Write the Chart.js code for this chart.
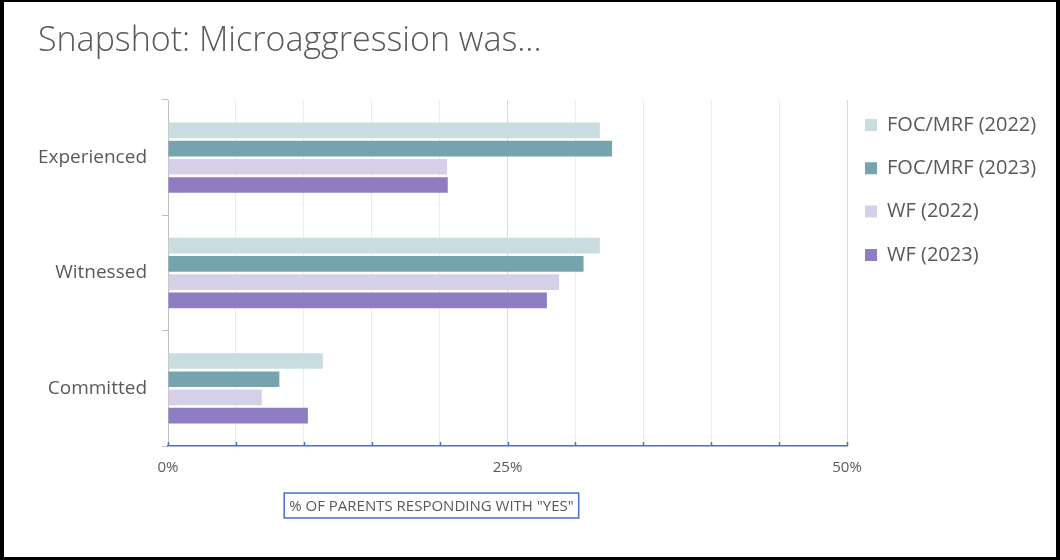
<!DOCTYPE html>
<html>
<head>
<meta charset="utf-8">
<script src="https://cdn.jsdelivr.net/npm/chart.js@4.4.1/dist/chart.umd.min.js"></script>
<style>
  html, body { margin: 0; padding: 0; background: #000; }
  #frame { position: absolute; left: 4px; top: 2px; width: 1052px; height: 555px; background: #fff; }
  canvas { display: block; }
</style>
</head>
<body>
<div id="frame"><canvas id="c" width="1052" height="555"></canvas></div>
<script>
// Survey answers: share of parents answering "yes", in percent
const categories = ['Experienced', 'Witnessed', 'Committed'];
const seriesNames = ['FOC/MRF (2022)', 'FOC/MRF (2023)', 'WF (2022)', 'WF (2023)'];
const focMrf2022 = [31.8, 31.8, 11.4];
const focMrf2023 = [32.7, 30.6, 8.2];
const wf2022 = [20.55, 28.8, 6.9];
const wf2023 = [20.6, 27.9, 10.3];
const xTickLabels = [0, 25, 50];
const axisTitle = '% OF PARENTS RESPONDING WITH "YES"';

const colors = ['#C9DCDF', '#75A4AF', '#D5CFE8', '#8E7DC2'];
const textColor = '#595959';
const fontFamily = "'Open Sans', 'Noto Sans', sans-serif";
const legendFontSize = 20;
const legendGap = 23.3;

// Legend placement beside the plot, blue inward tick marks and the boxed axis caption
const axisDecor = {
  id: 'axisDecor',
  beforeDraw(chart) {
    const lg = chart.legend;
    lg.left = chart.chartArea.right - 5.3;
    lg.top = chart.chartArea.top - 8.3;
    lg.right = lg.left + 215;
    lg.bottom = lg.top + 260;
  },
  afterDraw(chart) {
    const ctx = chart.ctx;
    const x = chart.scales.x;
    const area = chart.chartArea;
    ctx.save();
    ctx.strokeStyle = '#4472C4';
    ctx.lineWidth = 1.5;
    x.ticks.forEach(t => {
      const px = Math.round(x.getPixelForValue(t.value)) + 0.5;
      ctx.beginPath();
      ctx.moveTo(px, area.bottom);
      ctx.lineTo(px, area.bottom - 4);
      ctx.stroke();
    });
    // caption box
    ctx.font = '15px ' + fontFamily;
    const w = ctx.measureText(axisTitle).width;
    const cx = area.left + area.width * 0.388;
    const cy = area.bottom + 59.5;
    const bw = w + 10, bh = 25;
    ctx.lineWidth = 1.5;
    ctx.strokeRect(cx - bw / 2, cy - bh / 2, bw, bh);
    ctx.fillStyle = textColor;
    ctx.textAlign = 'center';
    ctx.textBaseline = 'middle';
    ctx.fillText(axisTitle, cx, cy + 1);
    ctx.restore();
  }
};

const seriesData = [focMrf2022, focMrf2023, wf2022, wf2023];

new Chart(document.getElementById('c'), {
  type: 'bar',
  data: {
    labels: categories,
    datasets: seriesNames.map((name, i) => ({
      label: name,
      data: seriesData[i],
      backgroundColor: colors[i],
      borderWidth: 0,
      categoryPercentage: 0.632,
      barPercentage: 0.86
    }))
  },
  options: {
    indexAxis: 'y',
    responsive: false,
    animation: false,
    layout: { padding: { left: 34, right: 209, top: 0, bottom: 0 } },
    plugins: {
      tooltip: { enabled: false },
      title: {
        display: true,
        text: 'Snapshot: Microaggression was...',
        align: 'start',
        color: textColor,
        font: { family: fontFamily, size: 34, weight: 300, lineHeight: 1.2 },
        padding: { top: 19, bottom: 38.2 }
      },
      legend: {
        position: 'chartArea',
        align: 'start',
        labels: {
          color: textColor,
          font: { family: fontFamily, size: legendFontSize },
          boxWidth: 12,
          boxHeight: 12,
          padding: legendGap
        }
      }
    },
    scales: {
      x: {
        min: 0,
        max: 50,
        afterFit(scale) { scale.height = 111; },
        ticks: {
          stepSize: 5,
          autoSkip: false,
          maxRotation: 0,
          color: textColor,
          padding: 13,
          font: { family: fontFamily, size: 15 },
          callback: v => xTickLabels.includes(v) ? v + '%' : ''
        },
        grid: {
          drawTicks: false,
          color: ctx => (ctx.tick && ctx.tick.value % 25 === 0) ? '#d9d9d9' : '#ececec',
          lineWidth: 1
        },
        border: { display: true, color: '#4472C4', width: 1.5 }
      },
      y: {
        afterFit(scale) { scale.width = 130; },
        ticks: {
          color: textColor,
          padding: 15,
          font: { family: fontFamily, size: 19 }
        },
        grid: {
          offset: true,
          drawOnChartArea: false,
          drawTicks: true,
          tickLength: 6,
          color: '#bfbfbf'
        },
        border: { display: true, color: '#bfbfbf', width: 1 }
      }
    }
  },
  plugins: [axisDecor]
});
</script>
</body>
</html>
